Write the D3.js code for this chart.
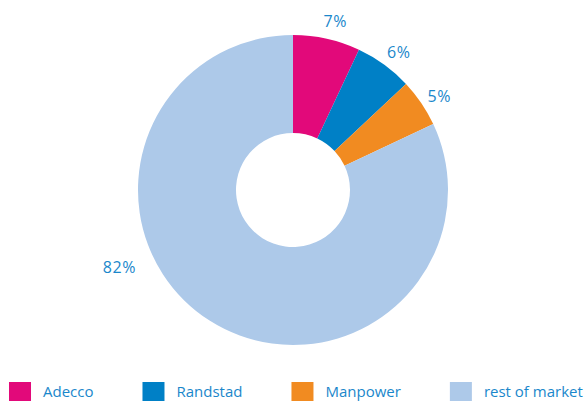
<!DOCTYPE html>
<html>
<head>
<meta charset="utf-8">
<script src="https://cdn.jsdelivr.net/npm/d3@7"></script>
<style>
  html, body { margin: 0; padding: 0; background: #fff; }
  svg { display: block; }
</style>
</head>
<body>
<div id="chart"></div>
<script>
const categories = ["Adecco", "Randstad", "Manpower", "rest of market"];
const shares = [7, 6, 5, 82];
const colors = ["#e2097a", "#0080c6", "#f18b21", "#adc9e9"];

const width = 587, height = 401;
const cx = 293, cy = 190;
const outerR = 155, innerR = 57;
const textColor = "#1a87cb";
const font = "'Open Sans', sans-serif";

const svg = d3.select("#chart").append("svg")
    .attr("width", width)
    .attr("height", height);

const data = categories.map((c, i) => ({ name: c, value: shares[i], color: colors[i] }));

const pie = d3.pie().value(d => d.value).sort(null);
const arc = d3.arc().innerRadius(innerR).outerRadius(outerR);
const arcs = pie(data);

const g = svg.append("g").attr("transform", `translate(${cx},${cy})`);

g.selectAll("path")
    .data(arcs)
    .join("path")
    .attr("d", arc)
    .attr("fill", d => d.data.color);

// small slices get their label just outside the ring, the big one goes lower left
function labelPos(d) {
    const big = d.data.value > 50;
    const a = big ? 4.295 : (d.startAngle + d.endAngle) / 2 + 0.025;
    const r = big ? 190 : 174;
    return [r * Math.sin(a), -r * Math.cos(a)];
}

g.selectAll("text.pct")
    .data(arcs)
    .join("text")
    .attr("class", "pct")
    .attr("x", d => labelPos(d)[0])
    .attr("y", d => labelPos(d)[1])
    .attr("dy", "0.36em")
    .attr("text-anchor", "middle")
    .attr("font-family", font)
    .attr("font-size", 16)
    .attr("letter-spacing", 0.6)
    .attr("fill", textColor)
    .text(d => d.data.value + "%");

// legend, laid out left to right
const legend = svg.append("g").selectAll("g")
    .data(data)
    .join("g");

legend.append("rect")
    .attr("width", 22)
    .attr("height", 22)
    .attr("fill", d => d.color);

legend.append("text")
    .attr("x", 34)
    .attr("y", 15)
    .attr("font-family", font)
    .attr("font-size", 15)
    .attr("fill", textColor)
    .text(d => d.name);

let lx = 9;
legend.each(function () {
    const item = d3.select(this);
    item.attr("transform", `translate(${lx},382)`);
    lx += 34 + item.select("text").node().getComputedTextLength() + 49;
});
</script>
</body>
</html>
